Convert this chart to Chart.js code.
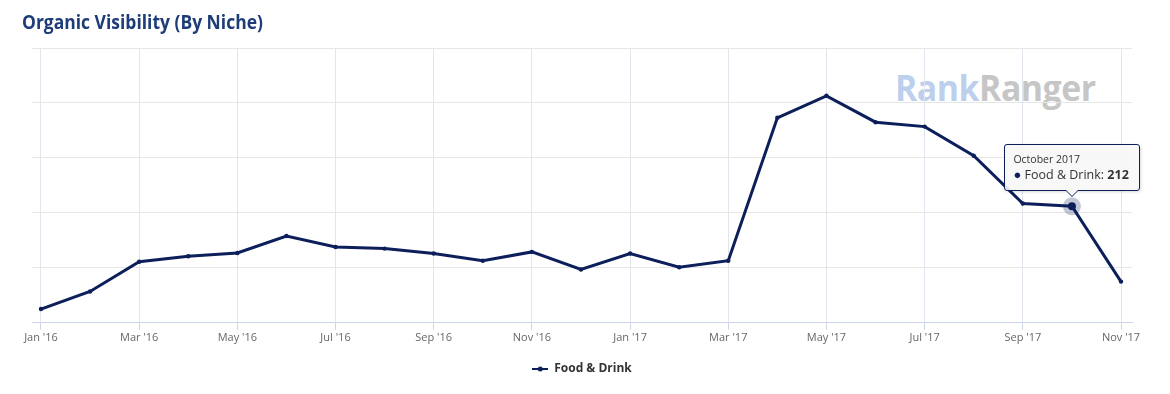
<!DOCTYPE html>
<html><head><meta charset="utf-8">
<script src="https://cdn.jsdelivr.net/npm/chart.js@4.4.1/dist/chart.umd.min.js"></script>
<style>
html,body{margin:0;padding:0;background:#fff;}
#wrap{position:relative;width:1170px;height:394px;overflow:hidden;}
#title{position:absolute;left:22px;top:13px;font-family:"Open Sans";font-weight:700;font-size:19px;line-height:19px;color:#1d3c78;white-space:nowrap;transform-origin:0 0;}
#wm{position:absolute;left:895px;top:70px;font-family:"Open Sans";font-weight:700;font-size:36px;line-height:36px;white-space:nowrap;transform-origin:0 0;letter-spacing:-0.5px;}
#wm .a{color:#bcd0ee}
#wm .b{color:#c6c6c6}
canvas{position:absolute;left:0;top:0;}
#tt{position:absolute;display:none;background:rgba(247,247,247,0.9);border:1px solid #0c1f5b;border-radius:3px;padding:7px 10px 7px 8px;font-family:"Open Sans";color:#333;white-space:nowrap;box-shadow:1px 1px 3px rgba(0,0,0,0.15);}
#tt .t{font-size:10.5px;line-height:14px;}
#tt .b{font-size:12.5px;line-height:17px;}
#tt .dot{color:#0c1f5b;font-size:13px;}
#tt:before{content:"";position:absolute;left:50%;bottom:-7px;margin-left:-7px;border-left:7px solid transparent;border-right:7px solid transparent;border-top:7px solid #0c1f5b;}
#tt:after{content:"";position:absolute;left:50%;bottom:-5.5px;margin-left:-6px;border-left:6px solid transparent;border-right:6px solid transparent;border-top:6px solid #f7f7f7;}
</style>
</head><body>
<div id="wrap">
  <div id="wm"><span class="a">Rank</span><span class="b">Ranger</span></div>
  <canvas id="c" width="1170" height="394"></canvas>
  <div id="title">Organic Visibility (By Niche)</div>
  <div id="tt"></div>
</div>
<script>
const categories = ["Jan '16","Feb '16","Mar '16","Apr '16","May '16","Jun '16","Jul '16","Aug '16","Sep '16","Oct '16","Nov '16","Dec '16",
                    "Jan '17","Feb '17","Mar '17","Apr '17","May '17","Jun '17","Jul '17","Aug '17","Sep '17","Oct '17","Nov '17"];
const tooltipTitles = ["January 2016","February 2016","March 2016","April 2016","May 2016","June 2016","July 2016","August 2016","September 2016","October 2016","November 2016","December 2016",
                       "January 2017","February 2017","March 2017","April 2017","May 2017","June 2017","July 2017","August 2017","September 2017","October 2017","November 2017"];
const seriesName = "Food & Drink";
const values = [25, 57, 111, 121, 127, 158, 138, 135, 126, 113, 129, 97, 126, 101, 113, 373, 413, 365, 357, 304, 217, 212, 75];
const yTicks = [0, 100, 200, 300, 400, 500];
const activeIndex = 21;

function fitWidth(el, target){ const w = el.scrollWidth; el.style.transform = 'scaleX(' + (target / w) + ')'; }
fitWidth(document.getElementById('title'), 241);
fitWidth(document.getElementById('wm'), 201);

const NAVY = '#0c1f5b';
const sym = document.createElement('canvas');
sym.width = 16; sym.height = 6;
(function(){ const g = sym.getContext('2d'); g.strokeStyle = NAVY; g.lineWidth = 2; g.beginPath(); g.moveTo(0,3); g.lineTo(16,3); g.stroke();
  g.fillStyle = NAVY; g.beginPath(); g.arc(8,3,2.5,0,Math.PI*2); g.fill(); })();

const halo = {
  id: 'halo',
  afterDatasetsDraw(chart){
    const ctx = chart.ctx;
    chart.getActiveElements().forEach(a => {
      const el = chart.getDatasetMeta(a.datasetIndex).data[a.index];
      ctx.save();
      ctx.beginPath(); ctx.arc(el.x, el.y, 9, 0, Math.PI*2);
      ctx.fillStyle = 'rgba(12,31,91,0.25)'; ctx.fill();
      ctx.beginPath(); ctx.arc(el.x, el.y, 4, 0, Math.PI*2);
      ctx.fillStyle = NAVY; ctx.fill();
      ctx.restore();
    });
  }
};

const chart = new Chart(document.getElementById('c'), {
  type: 'line',
  data: {
    datasets: [{
      label: seriesName,
      data: values.map((v, i) => ({x: i, y: v})),
      borderColor: NAVY,
      backgroundColor: NAVY,
      borderWidth: 3,
      pointRadius: 2.2,
      pointBorderWidth: 0,
      pointBackgroundColor: NAVY,
      pointHoverRadius: 2.2,
      pointHoverBorderWidth: 0,
      tension: 0
    }]
  },
  plugins: [halo],
  options: {
    responsive: false,
    animation: false,
    events: [],
    layout: {padding: {top: 48, left: 32, right: 38, bottom: 9}},
    scales: {
      x: {
        type: 'linear',
        min: -0.183, max: 22.224,
        afterBuildTicks: s => { s.ticks = categories.map((c, i) => ({value: i})).filter(t => t.value % 2 === 0); },
        ticks: {callback: v => categories[v], color: '#666', font: {family: 'Open Sans', size: 11}, maxRotation: 0, autoSkip: false, padding: 1},
        grid: {color: '#e1e5ee', tickColor: '#ccd6eb', tickLength: 7},
        border: {color: '#ccd6eb', width: 1}
      },
      y: {
        min: 0, max: 500,
        afterBuildTicks: s => { s.ticks = yTicks.map(v => ({value: v})); },
        ticks: {display: false},
        grid: {color: '#e6e6e6', drawTicks: false},
        border: {display: false}
      }
    },
    plugins: {
      title: {display: false},
      legend: {
        position: 'bottom',
        labels: {usePointStyle: true, pointStyle: sym, pointStyleWidth: 16, color: '#333', font: {family: 'Open Sans', size: 12, weight: 'bold'}, padding: 18}
      },
      tooltip: {
        enabled: false,
        external: ctx => {
          const {chart, tooltip} = ctx;
          const el = document.getElementById('tt');
          if (tooltip.opacity === 0 || !tooltip.dataPoints || !tooltip.dataPoints.length) { el.style.display = 'none'; return; }
          const dp = tooltip.dataPoints[0];
          el.innerHTML = '<div class="t">' + tooltipTitles[dp.dataIndex] + '</div><div class="b"><span class="dot">\u25CF</span> ' + dp.dataset.label + ': <b>' + dp.raw.y + '</b></div>';
          el.style.display = 'block';
          const w = el.offsetWidth, h = el.offsetHeight;
          el.style.left = (tooltip.caretX - w / 2) + 'px';
          el.style.top = (tooltip.caretY - h - 15) + 'px';
        }
      }
    }
  }
});
chart.setActiveElements([{datasetIndex: 0, index: activeIndex}]);
chart.tooltip.setActiveElements([{datasetIndex: 0, index: activeIndex}], {x: 0, y: 0});
chart.update('none');
</script>
</body></html>
